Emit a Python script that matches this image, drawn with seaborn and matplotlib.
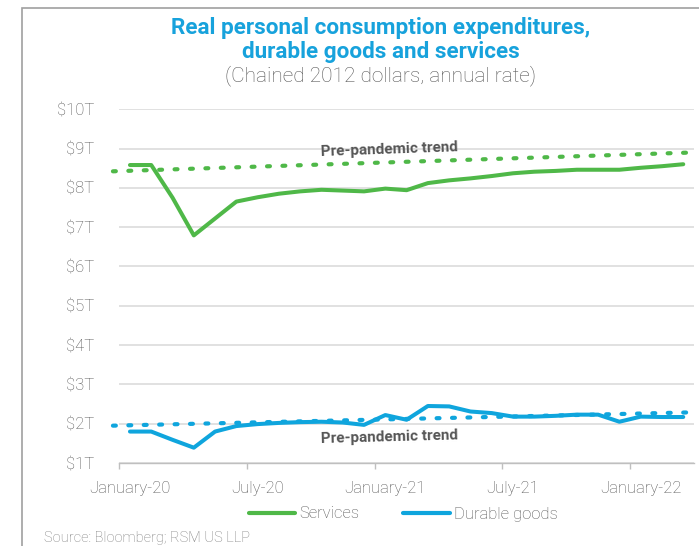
import matplotlib
matplotlib.use("Agg")
import matplotlib.pyplot as plt
import seaborn as sns
import pandas as pd
import numpy as np
from matplotlib.patches import Rectangle
from matplotlib.lines import Line2D

months = ["Jan-20", "Feb-20", "Mar-20", "Apr-20", "May-20", "Jun-20", "Jul-20", "Aug-20", "Sep-20",
          "Oct-20", "Nov-20", "Dec-20", "Jan-21", "Feb-21", "Mar-21", "Apr-21", "May-21", "Jun-21",
          "Jul-21", "Aug-21", "Sep-21", "Oct-21", "Nov-21", "Dec-21", "Jan-22", "Feb-22", "Mar-22"]
services = [8.58, 8.58, 7.75, 6.79, 7.22, 7.65, 7.76, 7.85, 7.91, 7.95, 7.93, 7.91, 7.98,
            7.94, 8.12, 8.19, 8.24, 8.30, 8.37, 8.41, 8.43, 8.46, 8.46, 8.46, 8.51, 8.55, 8.60]
durable = [1.80, 1.80, 1.59, 1.39, 1.80, 1.94, 1.99, 2.02, 2.04, 2.05, 2.03, 1.97, 2.22,
           2.10, 2.45, 2.44, 2.31, 2.27, 2.18, 2.18, 2.20, 2.23, 2.23, 2.05, 2.18, 2.17, 2.17]
trend_pos = [-0.8, 26.5]
trend_services = [8.42, 8.90]
trend_durable = [1.95, 2.29]
x_labels = ["January-20", "July-20", "January-21", "July-21", "January-22"]
y_ticks = [1, 2, 3, 4, 5, 6, 7, 8, 9, 10]

GREEN = "#4fb848"
BLUE = "#0fa5dd"
TITLE_BLUE = "#17a2dc"
GRAY_TXT = "#555555"

sns.set_theme(style="white")
plt.rcParams["font.family"] = ["Roboto", "DejaVu Sans"]

df = pd.DataFrame({"idx": np.arange(len(months)), "month": months,
                   "Services": services, "Durable goods": durable})
long = df.melt(id_vars=["idx", "month"], var_name="series", value_name="value")

fig = plt.figure(figsize=(6.99, 5.46), dpi=100)
ax = fig.add_axes([0.1707, 0.152, 0.822, 0.648])

sns.lineplot(data=long, x="idx", y="value", hue="series",
             palette={"Services": GREEN, "Durable goods": BLUE},
             linewidth=2.9, ax=ax, legend=False, zorder=3)

for tv, col in [(trend_services, GREEN), (trend_durable, BLUE)]:
    ax.plot(trend_pos, tv, color=col, linewidth=3.0, linestyle=(0, (0.7, 3.0)),
            dash_capstyle="round", clip_on=False, zorder=4)

ax.set_xlim(-0.5, len(months) - 0.5)
ax.set_ylim(1, 10)
ax.set_yticks(y_ticks)
ax.set_yticklabels([f"${v}T" for v in y_ticks], color=GRAY_TXT, fontsize=12, fontweight="light")
ax.yaxis.grid(True, color="#d9d9d9", linewidth=1.1)
ax.xaxis.grid(False)
ax.tick_params(axis="y", length=0, pad=18)

ax.set_xticks([0, 6, 12, 18, 24])
ax.set_xticklabels(x_labels, color=GRAY_TXT, fontsize=12, fontweight="light")
ax.set_xticks([-0.5, 5.5, 11.5, 17.5, 23.5], minor=True)
ax.tick_params(axis="x", which="major", length=0, pad=13)
ax.tick_params(axis="x", which="minor", length=4, width=1, color="#bfbfbf", direction="out", bottom=True)
ax.set_xlabel("")
ax.set_ylabel("")
for s in ["top", "right", "left"]:
    ax.spines[s].set_visible(False)
ax.spines["bottom"].set_color("#bfbfbf")
ax.spines["bottom"].set_linewidth(1)
ax.spines["bottom"].set_zorder(1)

ax.text(12.2, 8.97, "Pre-pandemic trend", color=GRAY_TXT, fontsize=11, fontweight="bold",
        ha="center", va="center", rotation=2)
ax.text(12.2, 1.66, "Pre-pandemic trend", color=GRAY_TXT, fontsize=11, fontweight="bold",
        ha="center", va="center", rotation=1.5)

fig.text(0.545, 1 - 28 / 546, "Real personal consumption expenditures,", color=TITLE_BLUE,
         fontsize=16.2, fontweight="bold", ha="center", va="center")
fig.text(0.545, 1 - 52 / 546, "durable goods and services", color=TITLE_BLUE,
         fontsize=16.2, fontweight="bold", ha="center", va="center")
fig.text(0.545, 1 - 76 / 546, "(Chained 2012 dollars, annual rate)", color=GRAY_TXT,
         fontsize=15, fontweight="light", ha="center", va="center")

handles = [Line2D([0], [0], color=GREEN, linewidth=3, solid_capstyle="round"),
           Line2D([0], [0], color=BLUE, linewidth=3, solid_capstyle="round")]
fig.legend(handles, ["Services", "Durable goods"], loc="center", bbox_to_anchor=(0.577, 1 - 514 / 546),
           ncol=2, frameon=False, prop={"weight": "light", "size": 12},
           handlelength=2.8, columnspacing=2.6, handletextpad=0.25, labelcolor=GRAY_TXT)

fig.text(44 / 699, 1 - 538 / 546, "Source: Bloomberg; RSM US LLP", color="#7f7f7f",
         fontsize=10.5, fontweight="light", ha="left", va="center")

frame = Rectangle((22 / 699, -0.1), 1.2, 1 - 8 / 546 + 0.1, transform=fig.transFigure,
                  fill=False, edgecolor="#a0a0a0", linewidth=1.2, clip_on=False)
fig.patches.append(frame)

fig.savefig("out.png", dpi=100)
